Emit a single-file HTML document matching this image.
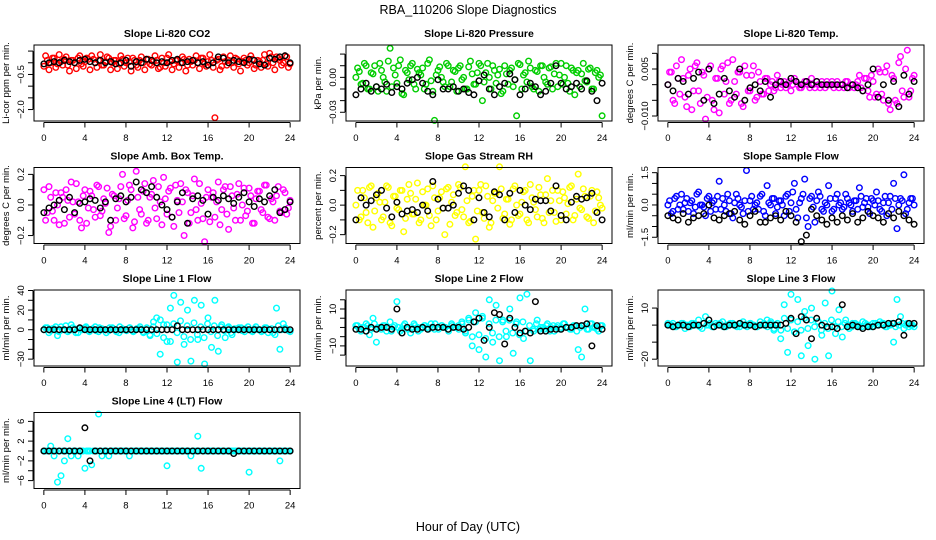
<!DOCTYPE html>
<html><head><meta charset="utf-8"><style>
html,body{margin:0;padding:0;background:#fff;}
svg{display:block;font-family:"Liberation Sans",Arial,sans-serif;}
</style></head><body>
<svg id="chart" width="936" height="540" viewBox="0 0 936 540" xmlns="http://www.w3.org/2000/svg">
<text x="468" y="14" text-anchor="middle" font-size="12.5">RBA_110206  Slope Diagnostics</text>
<text x="468" y="531" text-anchor="middle" font-size="12.5">Hour of Day (UTC)</text>
</svg>
<script>
// x-axis ticks (hours)
const xTicks = [0,4,8,12,16,20,24];

const co2Color = [-0.15,0.1,0.0,0.2,-0.05,0.05,0.15,-0.1,0.1,0.0,0.2,-0.05,0.05,0.15,0.3,0.0,0.1,-0.1,0.05,0.2,0.0,0.1,-0.05,0.15,0.0,0.05,0.2,-0.1,0.1,0.0,0.15,-0.05,0.05,0.1,-0.2,0.0,0.2,0.05,-0.05,0.1,0.0,0.15,-0.1,0.05,0.1,0.0,0.2,-0.05,0.05,0.1,-2.35,0.15,-0.15,0.05,0.1,0.0,0.2,-0.05,0.05,0.1,0.0,0.15,-0.1,0.05,0.1,-0.05,0.4,0.0,0.25,0.1,0.0,0.25,-0.05];
const co2Color2 = [0.3,-0.3,0.2,-0.2,0.35,-0.1,0.25,-0.35,0.1,-0.25,0.3,-0.15,0.2,-0.3,0.15,-0.2,0.35,-0.1,0.25,-0.3,0.1,-0.25,0.3,-0.15,0.2,-0.35,0.1,-0.2,0.25,-0.3,0.15,-0.1,0.3,-0.25,0.2,-0.15,0.35,-0.3,0.1,-0.2,0.25,-0.35,0.15,-0.1,0.3,-0.25,0.2,-0.15,0.35,-0.2,0.1,-0.3,0.25,-0.1,0.3,-0.2,0.15,-0.35,0.2,-0.1,0.3,-0.25,0.1,-0.2,0.35,-0.15,0.25,-0.3,0.2,-0.1,0.3,-0.2];
const co2Black = [-0.05,0.0,0.05,0.0,0.1,0.05,0.0,0.1,0.15,0.05,0.0,0.1,0.0,0.05,-0.05,0.0,0.1,-0.15,0.05,0.0,0.15,0.1,0.0,0.05,0.0,0.1,0.15,0.0,0.05,0.1,0.0,0.05,-0.1,0.0,0.25,0.2,0.0,0.1,0.05,0.0,0.15,0.1,-0.05,-0.1,0.2,0.15,0.25,0.3,0.0];

const presColor = [0.0,0.005,-0.005,0.01,-0.01,0.003,-0.008,0.012,0.0,-0.012,0.025,0.008,-0.005,0.015,-0.015,0.004,0.01,-0.006,0.007,0.002,-0.01,0.012,-0.003,-0.037,0.006,0.0,-0.008,0.01,-0.004,0.005,0.008,-0.002,-0.01,0.009,0.003,-0.006,0.012,-0.02,0.004,0.0,0.01,-0.005,0.007,-0.012,0.003,0.006,-0.008,-0.033,0.011,0.002,-0.004,0.008,-0.01,0.005,0.01,0.0,-0.006,0.009,0.003,-0.008,0.012,0.0,-0.005,0.008,-0.015,0.006,0.003,-0.003,0.007,-0.01,0.004,0.0,-0.033];
const presColor2 = [0.008,-0.006,0.012,-0.01,0.004,0.01,-0.012,0.006,-0.004,0.014,-0.008,0.002,0.01,-0.014,0.006,-0.002,0.012,-0.01,0.004,0.008,-0.006,0.015,-0.012,0.002,0.009,-0.004,0.012,-0.008,0.006,-0.012,0.01,0.0,-0.01,0.014,-0.006,0.004,0.01,-0.004,0.012,-0.01,0.006,0.002,-0.014,0.01,-0.006,0.008,-0.002,0.012,-0.01,0.004,0.014,-0.008,0.006,-0.012,0.01,-0.004,0.008,-0.01,0.012,0.002,-0.006,0.01,-0.012,0.006,0.004,-0.008,0.012,-0.004,0.008,-0.01,0.006,0.002];
const presBlack = [-0.015,-0.01,-0.005,-0.012,-0.008,-0.01,-0.006,-0.013,-0.008,-0.01,-0.005,-0.002,0.0,-0.005,-0.012,-0.015,-0.002,-0.01,-0.01,-0.008,-0.012,-0.01,-0.013,-0.015,-0.003,0.002,-0.01,-0.015,-0.008,-0.005,0.003,-0.002,-0.015,-0.01,-0.005,-0.008,-0.015,-0.012,-0.005,0.01,-0.005,-0.01,-0.008,-0.005,-0.01,-0.003,-0.012,-0.02,-0.005];

const tempColor = [0.0,0.004,-0.006,0.002,0.008,-0.004,0.003,-0.008,0.006,-0.002,0.004,-0.011,0.005,-0.005,0.002,-0.009,0.006,0.001,-0.006,0.008,-0.003,0.004,-0.007,0.003,-0.002,0.006,-0.004,0.001,-0.003,0.002,0.0,-0.002,0.003,-0.001,0.001,0.0,-0.002,0.002,0.0,-0.001,0.001,0.0,0.002,-0.001,0.0,0.001,-0.001,0.0,0.001,0.0,-0.001,0.0,0.001,-0.001,0.0,0.0,0.003,-0.002,0.002,-0.004,0.001,-0.003,0.004,-0.005,0.006,-0.008,0.002,-0.006,0.009,-0.004,0.011,-0.002,0.003];
const tempColor2 = [0.004,-0.005,0.006,-0.003,0.002,-0.007,0.005,-0.002,0.007,-0.006,0.003,-0.004,0.006,-0.008,0.002,0.005,-0.003,0.007,-0.005,0.001,0.004,-0.006,0.006,-0.002,0.003,-0.005,0.004,-0.003,0.002,-0.002,0.001,-0.001,0.001,0.0,-0.001,0.001,0.0,0.001,-0.001,0.0,0.001,-0.001,0.0,0.001,-0.001,0.0,0.001,0.0,-0.001,0.001,0.0,-0.001,0.001,0.0,-0.001,0.001,-0.001,0.002,-0.002,0.003,-0.004,0.005,-0.003,0.004,-0.006,0.003,-0.005,0.007,-0.002,0.005,-0.004,0.002];
const tempBlack = [0.0,-0.002,0.002,0.001,-0.003,0.002,0.004,-0.005,0.005,-0.006,-0.003,0.002,-0.002,-0.004,0.005,-0.005,-0.001,0.0,-0.002,0.001,-0.004,0.0,0.001,0.0,0.002,0.001,0.0,0.001,0.0,0.001,0.0,0.0,0.0,0.0,0.0,-0.001,0.0,-0.001,-0.002,0.0,0.005,-0.004,0.0,-0.005,0.001,-0.007,0.003,-0.003,0.001];

const ambColor = [0.1,-0.05,0.05,-0.1,0.0,0.08,-0.12,0.03,0.15,-0.06,0.02,-0.15,0.1,-0.02,0.06,-0.08,0.12,-0.04,0.01,-0.18,0.07,-0.1,0.04,0.2,-0.07,0.13,-0.15,0.22,-0.03,0.09,-0.12,0.05,0.16,-0.09,0.02,0.18,-0.06,0.11,-0.14,0.03,0.14,-0.2,0.08,-0.05,0.17,-0.1,0.01,-0.24,0.1,0.05,-0.08,0.15,-0.03,0.12,-0.16,0.06,-0.1,0.14,0.0,-0.07,0.11,-0.12,0.04,0.09,-0.05,0.13,-0.09,0.02,0.06,-0.04,0.1,-0.06,0.03];
const ambColor2 = [-0.1,0.12,-0.04,0.08,-0.13,0.05,0.1,-0.08,0.02,0.14,-0.1,0.06,-0.12,0.09,-0.03,0.13,-0.07,0.04,0.11,-0.14,0.06,-0.02,0.12,-0.09,0.03,0.1,-0.11,0.05,-0.06,0.14,-0.1,0.07,-0.02,0.12,-0.13,0.04,0.09,-0.08,0.13,-0.05,0.02,0.1,-0.12,0.06,-0.03,0.14,-0.09,0.05,-0.11,0.08,0.02,-0.13,0.1,-0.06,0.12,-0.02,0.07,-0.1,0.11,-0.04,0.06,-0.12,0.09,-0.03,0.13,-0.08,0.04,-0.1,0.12,-0.05,0.08,-0.02];
const ambBlack = [-0.05,-0.02,0.0,0.03,-0.03,0.05,-0.05,0.01,0.02,0.04,0.03,-0.02,0.02,-0.1,0.04,0.06,0.02,0.05,0.15,0.1,0.08,0.12,0.05,0.0,-0.03,-0.08,0.02,0.08,-0.12,0.04,0.06,0.03,-0.06,0.05,0.03,0.06,0.04,0.01,0.05,0.08,0.02,-0.01,0.04,0.02,0.06,0.1,-0.05,-0.03,0.02];

const rhColor = [0.0,-0.1,0.1,-0.05,0.12,-0.15,0.05,0.02,-0.08,0.13,-0.12,0.06,-0.02,0.1,-0.18,0.04,0.08,-0.06,0.15,-0.1,0.0,0.11,-0.14,0.05,-0.04,0.09,-0.2,0.12,0.02,-0.07,0.14,-0.03,0.26,-0.12,0.06,-0.23,0.1,-0.05,0.13,-0.15,0.03,0.08,0.26,-0.09,0.04,-0.13,0.11,0.0,-0.06,0.09,-0.1,0.14,0.02,-0.08,0.07,-0.12,0.18,0.03,-0.05,0.1,-0.1,0.05,0.01,0.13,-0.07,0.21,-0.03,0.06,-0.09,0.1,-0.04,0.05,-0.02];
const rhColor2 = [0.1,-0.08,0.05,-0.12,0.13,-0.04,0.08,-0.1,0.02,0.12,-0.14,0.06,-0.03,0.1,-0.09,0.14,-0.06,0.04,-0.12,0.09,0.0,-0.07,0.13,-0.1,0.05,-0.02,0.11,-0.13,0.07,-0.05,0.12,-0.08,0.03,-0.11,0.1,-0.04,0.14,-0.09,0.06,-0.12,0.08,-0.02,0.11,-0.06,0.04,-0.1,0.13,-0.07,0.02,0.1,-0.12,0.05,-0.03,0.12,-0.09,0.07,-0.05,0.1,-0.11,0.03,0.09,-0.06,0.12,-0.1,0.04,-0.02,0.11,-0.08,0.06,-0.12,0.09,0.0];
const rhBlack = [-0.1,0.05,0.0,0.03,0.07,0.1,-0.02,-0.08,0.02,-0.06,-0.04,-0.03,-0.05,0.0,-0.04,0.16,0.04,-0.02,-0.02,0.0,0.08,0.13,0.1,-0.1,0.05,-0.05,-0.08,0.09,0.07,-0.1,0.08,-0.05,0.1,0.0,-0.03,0.04,0.03,0.03,-0.04,0.13,-0.07,-0.1,0.02,0.06,0.04,0.05,0.08,-0.05,-0.1];

const flowColor = [0.0,-0.4,0.3,-0.2,0.5,0.1,-0.3,0.2,-0.1,0.6,0.0,-0.5,0.4,0.1,-0.2,1.1,0.3,-0.3,0.2,-0.6,0.5,0.0,-0.4,1.6,0.2,-0.2,0.1,0.4,-0.3,0.9,0.0,0.3,-0.1,0.2,-0.5,0.5,0.1,1.0,-0.6,0.3,1.2,-1.0,0.4,-0.8,0.6,-0.2,0.1,0.9,-0.3,0.3,0.0,-0.2,0.5,0.1,-0.3,0.2,0.8,-0.1,0.3,-0.4,0.2,0.6,-0.2,0.1,-0.5,0.4,1.0,-1.1,0.3,1.4,-0.2,0.3,0.0];
const flowColor2 = [0.2,-0.3,0.4,0.0,-0.2,0.3,0.1,-0.4,0.5,0.0,-0.1,0.3,-0.3,0.2,0.4,-0.2,0.0,0.5,-0.4,0.1,0.3,-0.1,0.2,-0.3,0.4,0.0,-0.2,0.5,-0.5,0.1,0.3,-0.4,0.2,0.0,0.4,-0.3,0.6,-0.2,0.1,0.5,-0.6,0.3,-0.1,0.2,0.4,-0.3,0.0,0.3,-0.2,0.5,0.1,-0.1,0.3,0.0,0.2,-0.2,0.4,0.1,-0.1,0.3,0.0,0.2,-0.3,0.4,0.1,-0.2,0.3,0.0,0.2,-0.4,0.1,0.3];
const flowBlack = [-0.5,-0.6,-0.7,-0.4,-0.8,-0.6,-0.5,-0.4,0.0,-0.6,-0.7,-0.5,-0.4,-0.3,-0.7,-0.9,-0.5,-0.3,-0.8,-0.8,-0.6,-0.5,-0.7,-0.3,-0.5,-0.8,-1.7,-1.4,-0.2,-0.5,-0.7,-0.9,-0.6,-0.8,-0.5,-0.7,-0.4,-0.8,-0.6,-0.3,-0.5,-0.6,-0.8,-0.4,-0.6,-0.3,-0.5,-0.7,-0.9];

const line1Color = [0,2,-1,1,-6,3,0,-2,5,1,-3,0,2,-1,0,3,-2,1,0,-1,2,0,-3,1,0,2,-1,0,1,-2,0,-5,3,12,-25,5,-12,22,35,-33,28,-15,20,-32,30,-10,25,-35,12,-18,30,-22,5,-8,3,-5,0,2,-1,1,0,-2,3,0,-1,2,0,-3,22,-20,6,0,-2];
const line1Color2 = [2,-3,1,3,-2,0,4,-1,2,-3,1,0,3,-2,1,-1,2,0,-3,2,1,-2,3,0,-1,2,-2,1,3,-3,2,-6,8,-4,10,-8,5,-12,6,-3,9,-7,4,-10,7,-5,3,-8,6,-2,4,-6,3,-1,2,-3,1,0,2,-2,3,-1,1,0,-2,2,-3,1,-5,4,0,2,-1];
const line1Black = [0,0,0,0,0,0,0,2,0,0,0,0,0,0,0,0,0,0,0,0,0,0,0,0,0,0,4,0,0,0,0,0,0,0,0,0,0,0,0,0,0,0,0,0,0,0,0,0,0];

const line2Color = [1,-1,0,2,-4,5,-8,0,1,-2,3,0,14,-2,1,0,-3,2,0,-1,1,0,2,-1,0,1,0,-1,2,0,1,3,-2,5,-10,8,-12,6,-16,15,-8,12,-18,4,-5,10,-14,3,16,-6,18,-18,-2,4,0,-1,2,0,-2,1,0,2,0,-1,1,-12,-16,10,-1,2,0,-2,1];
const line2Color2 = [1,-2,0,1,-1,2,0,-1,1,0,-2,1,0,-1,2,-1,0,1,-2,0,1,-1,0,2,-1,1,0,-2,1,0,-1,2,-3,4,-5,3,-4,5,-6,2,-3,4,-5,3,-2,4,-3,2,-4,3,-2,1,-1,2,-1,0,1,-2,1,0,-1,2,0,-1,1,-2,0,1,-1,2,0,-1,1];
const line2Black = [-1,-1,-2,0,-1,0,0,-1,10,-3,0,-1,-1,0,-1,0,0,0,-1,0,0,-1,0,3,5,-7,0,8,7,-9,5,0,-3,-2,-3,14,-2,-2,-1,-1,-1,0,0,1,1,2,-10,1,-1];

const line3Color = [1,0,-1,0,1,-2,0,1,0,3,-2,5,0,-1,1,0,2,-1,0,1,0,-1,2,0,1,0,-1,2,0,3,1,-3,0,-8,12,-16,18,-4,15,-18,8,-12,10,-20,2,-6,13,-18,20,-5,9,-7,3,-2,1,0,-1,2,0,-1,1,0,2,1,-1,0,-10,15,5,-2,1,0,-1];
const line3Color2 = [0,1,-1,0,1,0,-1,1,0,-1,1,0,1,-1,0,1,-1,0,1,0,-1,1,0,-1,1,0,-1,0,1,-1,2,-2,1,-3,4,-2,3,-4,2,-3,4,-2,3,-1,2,-3,1,-2,3,-1,2,-1,1,0,-1,1,0,-1,1,0,-1,1,0,1,-1,0,1,-1,0,1,0,-1,0];
const line3Black = [0,-1,0,0,-1,0,0,1,3,-1,0,-1,0,0,1,0,0,-1,0,0,0,0,0,1,4,-5,5,3,-8,4,0,-1,-1,-2,12,-1,0,-1,-2,-1,-1,0,0,1,1,2,-6,1,1];

const line4Color = [0,0,1,-1,-6.3,-5,-2,2.5,-1,0,-1,0,-3.5,0,-2.8,0,7.5,-1,0,-1,0,0,0,0,0,-1,0,0,0,0,0,0,0,0,0,0,-3,0,0,0,0,0,0,-1,0,3,-3.5,0,0,0,0,0,0,0,0,0,0,0,0,0,-4.3,0,0,0,0,0,0,0,0,-2,0,0,0];
const line4Color2 = [0,0,0,0,0,0,0,0,0,0,0,0,0,0,0,0,0,0,0,0,0,0,0,0,0,0,0,0,0,0,0,0,0,0,0,0,0,0,0,0,0,0,0,0,0,0,0,0,0,0,0,0,0,0,0,0,0,0,0,0,0,0,0,0,0,0,0,0,0,0,0,0];
const line4Black = [0,0,0,0,0,0,0,0,4.7,-2,0,0,0,0,0,0,0,0,0,0,0,0,0,0,0,0,0,0,0,0,0,0,0,0,0,0,0,-0.5,0,0,0,0,0,0,0,0,0,0,0];

const panels = [
 {name:'co2',title:'Slope Li-820 CO2',ylab:'Li-cor ppm per min.',col:0,row:0,ylim:[0.76,-2.49],ticks:[0.5,0,-0.5,-1,-1.5,-2],labels:{'-0.5':'-0.5','-2':'-2.0'},color:'#ff0000',c:co2Color,c2:co2Color2,b:co2Black},
 {name:'pressure',title:'Slope Li-820 Pressure',ylab:'kPa per min.',col:1,row:0,ylim:[0.0278,-0.0375],ticks:[0.02,0.01,0,-0.01,-0.02,-0.03],labels:{'0':'0.00','-0.03':'-0.03'},color:'#00cd00',c:presColor,c2:presColor2,b:presBlack},
 {name:'temp',title:'Slope Li-820 Temp.',ylab:'degrees C per min.',col:2,row:0,ylim:[0.01266,-0.0116],ticks:[0.01,0.005,0,-0.005,-0.01],labels:{'0.005':'0.005','-0.01':'-0.010'},color:'#ff00ff',c:tempColor,c2:tempColor2,b:tempBlack},
 {name:'amb-temp',title:'Slope Amb. Box Temp.',ylab:'degrees C per min.',col:0,row:1,ylim:[0.245,-0.252],ticks:[0.2,0.1,0,-0.1,-0.2],labels:{'0.2':'0.2','0':'0.0','-0.2':'-0.2'},color:'#ff00ff',c:ambColor,c2:ambColor2,b:ambBlack},
 {name:'rh',title:'Slope Gas Stream RH',ylab:'percent per min.',col:1,row:1,ylim:[0.255,-0.26],ticks:[0.2,0.1,0,-0.1,-0.2],labels:{'0.2':'0.2','0':'0.0','-0.2':'-0.2'},color:'#ffff00',c:rhColor,c2:rhColor2,b:rhBlack},
 {name:'sample-flow',title:'Slope Sample Flow',ylab:'ml/min per min.',col:2,row:1,ylim:[1.74,-1.79],ticks:[1.5,1,0.5,0,-0.5,-1,-1.5],labels:{'1.5':'1.5','0':'0.0','-1.5':'-1.5'},color:'#0000ff',c:flowColor,c2:flowColor2,b:flowBlack},
 {name:'line1',title:'Slope Line 1 Flow',ylab:'ml/min per min.',col:0,row:2,ylim:[40.5,-37],ticks:[40,30,20,10,0,-10,-20,-30],labels:{'40':'40','20':'20','0':'0','-30':'-30'},color:'#00ffff',c:line1Color,c2:line1Color2,b:line1Black},
 {name:'line2',title:'Slope Line 2 Flow',ylab:'ml/min per min.',col:1,row:2,ylim:[20.3,-20.9],ticks:[15,10,5,0,-5,-10,-15],labels:{'10':'10','-10':'-10'},color:'#00ffff',c:line2Color,c2:line2Color2,b:line2Black},
 {name:'line3',title:'Slope Line 3 Flow',ylab:'ml/min per min.',col:2,row:2,ylim:[20.6,-24],ticks:[10,0,-10,-20],labels:{'10':'10','-20':'-20'},color:'#00ffff',c:line3Color,c2:line3Color2,b:line3Black},
 {name:'line4',title:'Slope Line 4 (LT) Flow',ylab:'ml/min per min.',col:0,row:3,ylim:[7.8,-7.6],ticks:[6,4,2,0,-2,-4,-6],labels:{'6':'6','2':'2','-2':'-2','-6':'-6'},color:'#00ffff',c:line4Color,c2:line4Color2,b:line4Black}
];

const NS='http://www.w3.org/2000/svg';
const svg=document.getElementById('chart');
const colX=[34,346,658], rowY=[45,167.5,290,412.5], W=266, H=76;
const XMIN=-0.96, XMAX=24.96;
function mk(tag,attrs,parent){const e=document.createElementNS(NS,tag);for(const k in attrs)e.setAttribute(k,attrs[k]);(parent||svg).appendChild(e);return e;}

panels.forEach(p=>{
  const L=colX[p.col], T=rowY[p.row];
  const g=mk('g',{});
  
  
  const xs=v=>L+(v-XMIN)/(XMAX-XMIN)*W;
  const ys=v=>T+(p.ylim[0]-v)/(p.ylim[0]-p.ylim[1])*H;
  const t=mk('text',{x:L+W/2,y:T-8,'text-anchor':'middle','font-size':'10.5','font-weight':'bold'},g);
  t.textContent=p.title;
  
  
  const cg=mk('g',{fill:'none',stroke:p.color,'stroke-width':'1.4'},g);
  
  
  const n2=p.c2.length;
  p.c2.forEach((v,i)=>{
    const h=(i+0.5)*24/(n2);
    const c=mk('circle',{cx:xs(h).toFixed(1),cy:ys(v).toFixed(1),r:'2.8'},cg);
    
    
  });
  const nc=p.c.length;
  p.c.forEach((v,i)=>{
    const h=i*24/(nc-1);
    const c=mk('circle',{cx:xs(h).toFixed(1),cy:ys(v).toFixed(1),r:'2.8'},cg);
    
    
  });
  const bg=mk('g',{fill:'none',stroke:'#000','stroke-width':'1.4'},g);
  
  
  const nb=p.b.length;
  p.b.forEach((v,i)=>{
    const h=i*24/(nb-1);
    const c=mk('circle',{cx:xs(h).toFixed(1),cy:ys(v).toFixed(1),r:'2.8'},bg);
    
    
  });
  const box=mk('rect',{x:L,y:T,width:W,height:H,fill:'none',stroke:'#000','stroke-width':'1'},g);
  
  
  const xa=mk('g',{stroke:'#000','stroke-width':'1'},g);
  
  
  const ay=T+H+1.5;
  mk('line',{x1:xs(xTicks[0]),x2:xs(xTicks[xTicks.length-1]),y1:ay,y2:ay},xa);
  xTicks.forEach(v=>{
    mk('line',{x1:xs(v),x2:xs(v),y1:ay,y2:ay+5},xa);
    const lt=mk('text',{x:xs(v),y:T+H+20,'text-anchor':'middle','font-size':'9.5',stroke:'none',fill:'#000'},g);
    lt.textContent=v;
    
    
  });
  const ya=mk('g',{stroke:'#000','stroke-width':'1'},g);
  
  
  const ax=L-1;
  mk('line',{x1:ax,x2:ax,y1:ys(p.ticks[0]),y2:ys(p.ticks[p.ticks.length-1])},ya);
  p.ticks.forEach(v=>{
    mk('line',{x1:ax,x2:ax-5,y1:ys(v),y2:ys(v)},ya);
    const key=String(v);
    if(p.labels[key]!==undefined){
      const yy=ys(v), xx=L-10;
      const lt=mk('text',{x:xx,y:yy,'text-anchor':'middle','font-size':'9.5',transform:`rotate(-90 ${xx} ${yy})`},g);
      lt.textContent=p.labels[key].replace('-','\u2212');
      
      
    }
  });
  const yl=L-25, yc=T+H/2;
  const ylab=mk('text',{x:yl,y:yc,'text-anchor':'middle','font-size':'9.5',transform:`rotate(-90 ${yl} ${yc})`},g);
  ylab.textContent=p.ylab;
  
  
});
</script>
</body></html>
